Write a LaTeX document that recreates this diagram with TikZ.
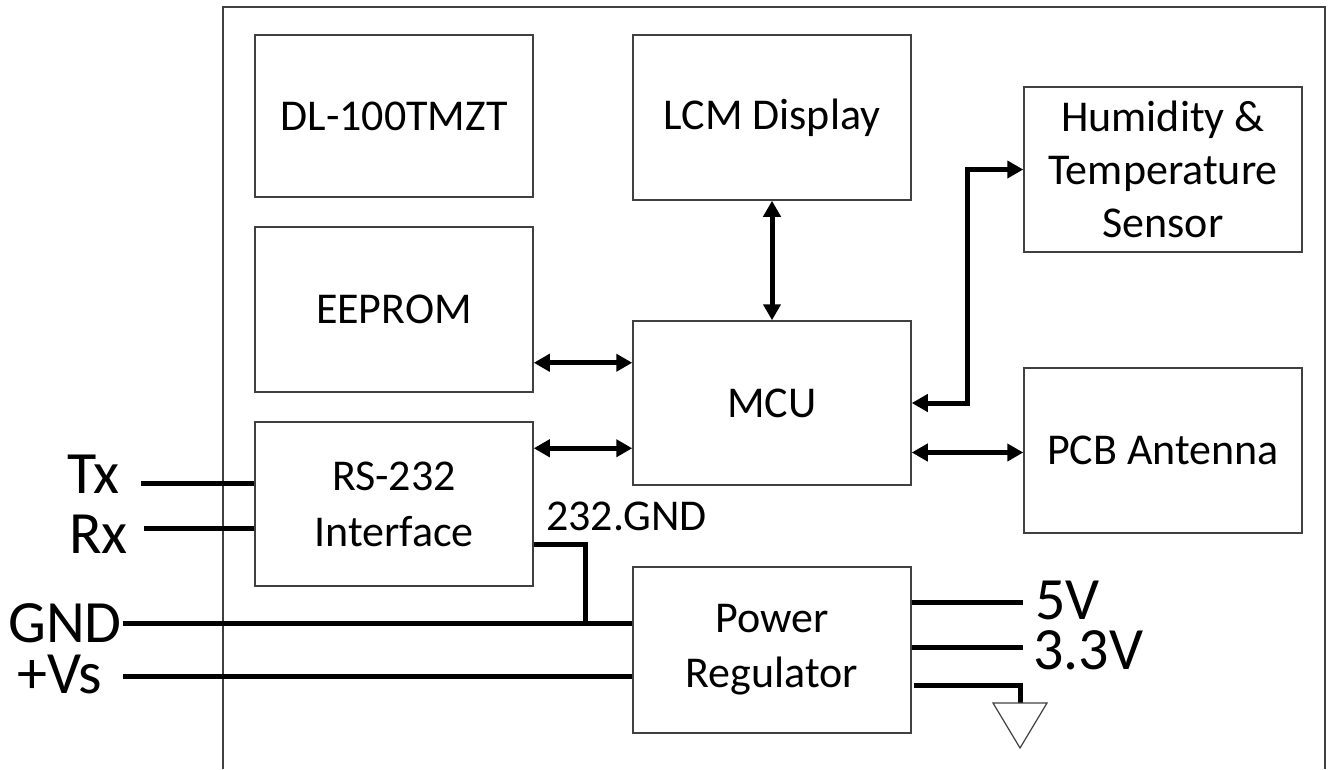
\documentclass[tikz,border=0pt]{standalone}
\usepackage{fontspec}
\setmainfont{Carlito}
\usetikzlibrary{arrows.meta}
\definecolor{edge}{HTML}{404040}
\tikzset{
  box/.style={draw=edge, line width=1.5pt, minimum width=278pt, minimum height=165pt,
    inner sep=0pt, align=center, font=\fontsize{44pt}{53pt}\selectfont},
  sidelbl/.style={anchor=base west, inner sep=0pt, text height=39pt, text depth=0pt,
    font=\fontsize{60pt}{70pt}\selectfont},
  smalllbl/.style={anchor=base west, inner sep=0pt, font=\fontsize{44pt}{53pt}\selectfont},
  wire/.style={line width=5pt, black},
  dbl/.style={wire, {Triangle[length=16pt,width=17pt]}-{Triangle[length=16pt,width=17pt]}},
  sgl/.style={wire, -{Triangle[length=16pt,width=17pt]}}
}
\begin{document}
\begin{tikzpicture}[x=1pt,y=-1pt]
\useasboundingbox (0,0) rectangle (1333,769);
% outer frame (open at bottom)
\draw[edge, line width=1.5pt] (223,769) -- (223,7) -- (1325,7) -- (1325,769);

% boxes
\node[box, minimum height=162pt] (dl) at (394,116) {DL-100TMZT};
\node[box] (lcm) at (772,117.5) {LCM Display};
\node[box] (eeprom) at (394,309.5) {EEPROM};
\node[box, minimum height=164pt] (mcu) at (772,403) {MCU};
\node[box, minimum height=164pt, font=\fontsize{44pt}{56pt}\selectfont] (rs) at (394,504) {RS-232\\Interface};
\node[box] (hum) at (1163,169.5) {Humidity \&\\Temperature\\Sensor};
\node[box] (pcb) at (1163,450.5) {PCB Antenna};
\node[box, minimum height=166pt, font=\fontsize{44pt}{55pt}\selectfont] (pwr) at (772,650) {Power\\Regulator};

% labels
\node[sidelbl] (tx) at (67,493) {Tx};
\node[sidelbl] (rx) at (69,553) {Rx};
\node[sidelbl] (gnd) at (8,642) {GND};
\node[sidelbl] (vs) at (17,693) {+Vs};
\node[sidelbl] (v5) at (1035,619) {5V};
\node[sidelbl] (v33) at (1033,669) {3.3V};
\node[smalllbl] (g232) at (546,530) {232.GND};

% MCU connections
\draw[dbl] (lcm.south) -- (mcu.north);
\draw[dbl] ([yshift=30pt]eeprom.south east) -- ([yshift=30pt]eeprom.south east -| mcu.west);
\draw[dbl] ([yshift=-27pt]rs.north east) -- ([yshift=-27pt]rs.north east -| mcu.west);
\draw[dbl] (mcu.east) -- ++(56,0) |- (hum.west);
\draw[dbl] ([yshift=-2pt]pcb.west -| mcu.east) -- ([yshift=-2pt]pcb.west);

% external wires
\coordinate (txs) at (141,483);
\coordinate (rxs) at (144,528);
\coordinate (gnds) at (123,623);
\coordinate (vss) at (123,676);
\coordinate (gj) at (585,623);
\draw[wire] (txs) -- (txs -| rs.west);
\draw[wire] (rxs) -- (rxs -| rs.west);
\draw[wire] (gnds) -- (gnds -| pwr.west);
\draw[wire] (vss) -- (vss -| pwr.west);
\draw[wire] ([yshift=42pt]rs.south east) -| (gj);

% regulator outputs
\coordinate (o5) at (1023,602);
\coordinate (o33) at (1023,647);
\coordinate (gtop) at (1020,703);
\draw[wire] (o5 -| pwr.east) -- (o5);
\draw[wire] (o33 -| pwr.east) -- (o33);
\draw[wire] ([xshift=2pt]pwr.east |- 0,685) -| (gtop);
\draw[edge, line width=1.2pt, line join=miter] (993,703) -- (1047,703) -- (1020,748) -- cycle;
\end{tikzpicture}
\end{document}
